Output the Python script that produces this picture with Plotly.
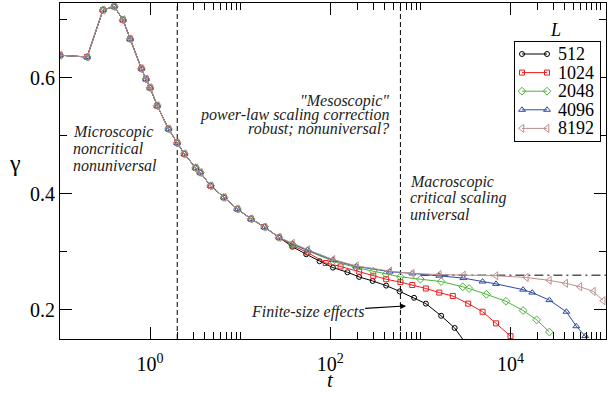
import numpy as np
import plotly.graph_objects as go

# Early-time relaxation shared by every system size
t_early = [0.1, 0.2, 0.3, 0.4, 0.5, 0.6, 0.8, 0.9, 1.0, 1.2, 1.6, 2.0, 2.4,
           3.2, 3.6, 4.7, 6.6, 9.3, 13.2, 18.6, 27]
g_early = [0.639, 0.636, 0.717, 0.723, 0.700, 0.667, 0.616, 0.598, 0.583,
           0.552, 0.512, 0.488, 0.469, 0.445, 0.437, 0.414, 0.394, 0.374,
           0.357, 0.343, 0.325]

# Late-time behaviour per system size L
t_512 = [38, 54, 76, 107, 155, 209, 295, 417, 589, 851, 1150, 1700, 2400, 3100]
g_512 = [0.309, 0.296, 0.284, 0.273, 0.265, 0.257, 0.250, 0.242, 0.232,
         0.221, 0.211, 0.190, 0.169, 0.145]

t_1024 = [38, 56, 89, 130, 209, 300, 417, 600, 813, 1150, 1620, 2290, 3390,
          4900, 6900, 10000]
g_1024 = [0.311, 0.299, 0.281, 0.275, 0.266, 0.259, 0.253, 0.248, 0.243,
          0.237, 0.230, 0.224, 0.211, 0.197, 0.177, 0.155]

t_2048 = [38, 56, 107, 195, 300, 417, 600, 1000, 1700, 2950, 3470, 5400,
          8900, 13800, 19500, 27000]
g_2048 = [0.313, 0.302, 0.284, 0.273, 0.267, 0.262, 0.257, 0.253, 0.249,
          0.240, 0.237, 0.227, 0.215, 0.199, 0.183, 0.162]

t_4096 = [38, 56, 107, 195, 457, 813, 1620, 3000, 4900, 6900, 13800, 17400,
          27000, 41700, 53700, 67600, 75000]
g_4096 = [0.314, 0.303, 0.286, 0.275, 0.266, 0.263, 0.259, 0.255, 0.249,
          0.245, 0.235, 0.230, 0.217, 0.197, 0.172, 0.155, 0.140]

t_8192 = [38, 56, 107, 195, 457, 813, 1620, 3000, 6900, 15000, 27000, 41000,
          58900, 83200, 107000]
g_8192 = [0.315, 0.304, 0.287, 0.276, 0.267, 0.263, 0.261, 0.260, 0.259,
          0.256, 0.251, 0.246, 0.240, 0.232, 0.216]

sizes = ["512", "1024", "2048", "4096", "8192"]
series_t = [t_512, t_1024, t_2048, t_4096, t_8192]
series_g = [g_512, g_1024, g_2048, g_4096, g_8192]
colors = ["#000000", "#ee1c1c", "#4db33d", "#2b4ba5", "#bc8f8f"]
symbols = ["circle-open", "square-open", "diamond-open", "triangle-up-open",
           "triangle-left-open"]
msizes = [5, 5, 6, 6, 7]

# asymptotic value and regime boundaries
gamma_inf = 0.26
t_asym = [1000, 120000]
t_bounds = [2, 600]

y_lo, y_hi = 0.15, 0.729
SERIF = "Liberation Serif, Times New Roman, Times, serif"

fig = go.Figure()

for tb in t_bounds:
    fig.add_trace(go.Scatter(x=[tb, tb], y=[y_lo, y_hi], mode="lines",
                             line=dict(color="black", width=1, dash="5px,3px"),
                             showlegend=False, hoverinfo="skip"))

fig.add_trace(go.Scatter(x=t_asym, y=[gamma_inf, gamma_inf], mode="lines",
                         line=dict(color="black", width=1, dash="9px,4px,2px,4px"),
                         showlegend=False, hoverinfo="skip"))

for name, ts, gs, c, s, ms in zip(sizes, series_t, series_g, colors, symbols, msizes):
    fig.add_trace(go.Scatter(
        x=t_early + ts, y=g_early + gs, mode="lines+markers", name=name,
        line=dict(color=c, width=1),
        marker=dict(symbol=s, size=ms, color=c, line=dict(color=c, width=1)),
        showlegend=False,
    ))

# Legend drawn in its own small frame (x2/y2 in pixel-like units),
# each entry a short line with a marker at both ends
LEG_X0, LEG_X1, LEG_TOP, LEG_BOT = 515, 600, 42, 141
row_y = [54, 72.6, 91.2, 109.8, 128.4]
ann = []
for name, c, s, ms, ry in zip(sizes, colors, symbols, msizes, row_y):
    fig.add_trace(go.Scatter(
        x=[522, 547], y=[ry, ry], mode="lines+markers", xaxis="x2", yaxis="y2",
        line=dict(color=c, width=1),
        marker=dict(symbol=s, size=ms, color=c, line=dict(color=c, width=1)),
        showlegend=False, hoverinfo="skip"))
    ann.append(dict(text=name, x=556, y=ry, xref="x2", yref="y2",
                    xanchor="left", yanchor="middle", showarrow=False,
                    font=dict(family=SERIF, size=18, color="black")))

# minor ticks: 2..10 x 10^k for every second decade
minor_x = [k * 10.0 ** e for e in (-2, 0, 2, 4) for k in range(2, 11)]

xaxis = dict(
    type="log", range=[-1.0, 5.06],
    tickmode="array", tickvals=[1, 100, 10000],
    ticktext=["10<sup>0</sup>", "10<sup>2</sup>", "10<sup>4</sup>"],
    ticks="inside", ticklen=12, tickwidth=1, tickcolor="black",
    showline=True, linecolor="black", linewidth=1, mirror="ticks",
    showgrid=False, zeroline=False, ticklabelstandoff=7,
    minor=dict(tickmode="array", tickvals=minor_x, ticks="inside",
               ticklen=7, tickwidth=1, tickcolor="black", showgrid=False),
    tickfont=dict(family=SERIF, size=20, color="black"),
)
yaxis = dict(
    range=[y_lo, y_hi],
    tickmode="array", tickvals=[0.2, 0.4, 0.6], ticktext=["0.2", "0.4", "0.6"],
    ticks="inside", ticklen=12, tickwidth=1, tickcolor="black",
    showline=True, linecolor="black", linewidth=1, mirror="ticks",
    showgrid=False, zeroline=False,
    minor=dict(tickmode="array", tickvals=[0.3, 0.5, 0.7], ticks="inside",
               ticklen=7, tickwidth=1, tickcolor="black", showgrid=False),
    tickfont=dict(family=SERIF, size=20, color="black"),
)

it = dict(family=SERIF, size=16, color="#222222")


def label(text, x, y, anchor):
    ann.append(dict(text="<i>" + text + "</i>", x=x, y=y, xref="x", yref="y",
                    xanchor=anchor, yanchor="middle", showarrow=False, font=it))


for line, y in zip(["Microscopic", "noncritical", "nonuniversal"],
                   [0.5065, 0.4785, 0.4492]):
    label(line, -0.878, y, "left")
for line, y in zip(['"Mesoscopic"', "power-law scaling correction",
                    "robust; nonuniversal?"], [0.5599, 0.5367, 0.5134]):
    label(line, 2.674, y, "right")
for line, y in zip(["Macroscopic", "critical scaling", "universal"],
                   [0.4213, 0.3929, 0.3645]):
    label(line, 2.867, y, "left")

ann.append(dict(text="<i>Finite-size effects</i>", x=2.841, y=0.207,
                xref="x", yref="y", ax=-99, ay=6, axref="pixel", ayref="pixel",
                showarrow=True, arrowhead=2, arrowsize=1, arrowwidth=1.2,
                arrowcolor="black", font=it))

ann.append(dict(text="<i>L</i>", x=4.5, y=0.6833, xref="x", yref="y",
                xanchor="center", yanchor="middle", showarrow=False,
                font=dict(family=SERIF, size=18, color="black")))
ann.append(dict(text="γ", x=-0.0824, y=0.525, xref="paper", yref="paper",
                xanchor="center", yanchor="middle", showarrow=False,
                font=dict(family=SERIF, size=24, color="black")))
ann.append(dict(text="<i>t</i>", x=0.4963, y=-0.122, xref="paper", yref="paper",
                xanchor="center", yanchor="middle", showarrow=False,
                font=dict(family=SERIF, size=21, color="black")))

W, H, ML, MR, MT, MB = 616, 395, 60, 10, 3, 56
pw, ph = W - ML - MR, H - MT - MB

fig.update_layout(
    width=W, height=H,
    margin=dict(l=ML, r=MR, t=MT, b=MB),
    plot_bgcolor="white", paper_bgcolor="white",
    font=dict(family=SERIF, size=18, color="black"),
    annotations=ann,
    showlegend=False,
    xaxis=xaxis, yaxis=yaxis,
    xaxis2=dict(domain=[(LEG_X0 - ML) / pw, (LEG_X1 - ML) / pw],
                range=[LEG_X0, LEG_X1], anchor="y2",
                showline=True, mirror=True, linecolor="black", linewidth=1,
                showticklabels=False, ticks="", showgrid=False, zeroline=False,
                fixedrange=True),
    yaxis2=dict(domain=[(H - MB - LEG_BOT) / ph, (H - MB - LEG_TOP) / ph],
                range=[LEG_BOT, LEG_TOP], anchor="x2",
                showline=True, mirror=True, linecolor="black", linewidth=1,
                showticklabels=False, ticks="", showgrid=False, zeroline=False,
                fixedrange=True),
)

fig.write_html("out.html")
